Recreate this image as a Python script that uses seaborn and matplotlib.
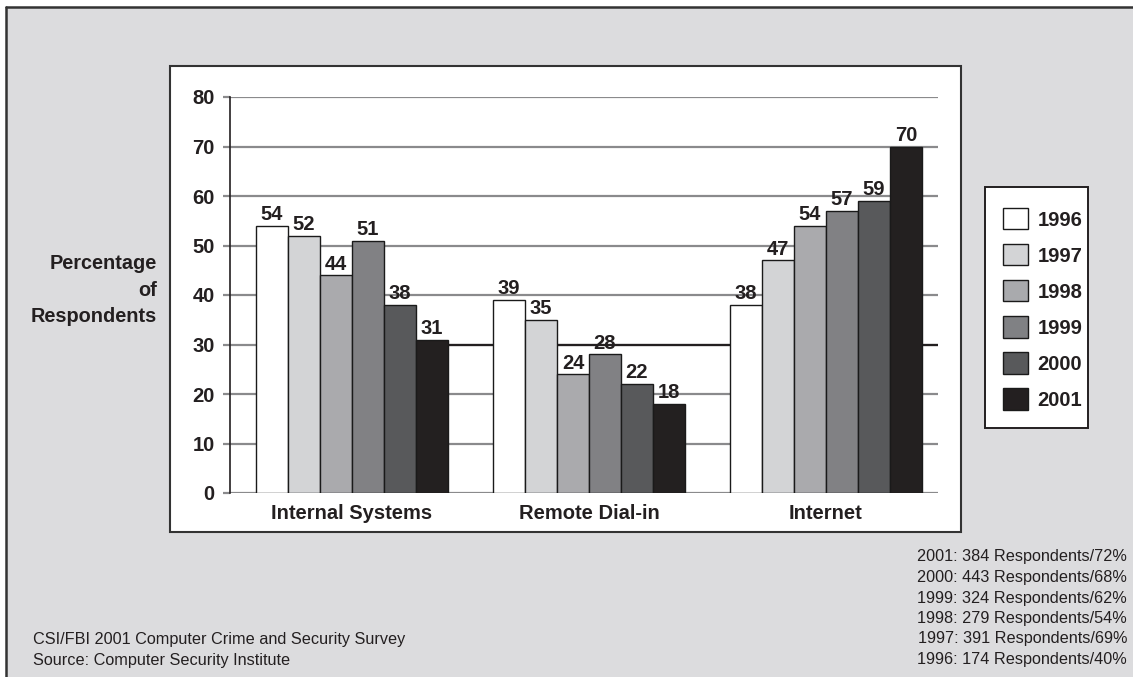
import matplotlib
matplotlib.use("Agg")
import matplotlib.pyplot as plt
from matplotlib.patches import Rectangle, Patch
import pandas as pd
import seaborn as sns

# Survey results: percentage of respondents citing each point of attack
categories = ["Internal Systems", "Remote Dial-in", "Internet"]
years = ["1996", "1997", "1998", "1999", "2000", "2001"]
internal_systems = [54, 52, 44, 51, 38, 31]
remote_dial_in = [39, 35, 24, 28, 22, 18]
internet = [38, 47, 54, 57, 59, 70]
y_ticks = [0, 10, 20, 30, 40, 50, 60, 70, 80]
respondent_notes = [
    "2001: 384 Respondents/72%",
    "2000: 443 Respondents/68%",
    "1999: 324 Respondents/62%",
    "1998: 279 Respondents/54%",
    "1997: 391 Respondents/69%",
    "1996: 174 Respondents/40%",
]
source_notes = [
    "CSI/FBI 2001 Computer Crime and Security Survey",
    "Source: Computer Security Institute",
]

year_colors = ["#ffffff", "#d3d4d6", "#a9aaad", "#808184", "#58595b", "#231f20"]
group_width = 0.81

rows = []
for cat, vals in zip(categories, [internal_systems, remote_dial_in, internet]):
    for yr, v in zip(years, vals):
        rows.append({"category": cat, "year": yr, "value": v})
df = pd.DataFrame(rows)

sns.set_theme(style="white")
plt.rcParams["font.family"] = ["Liberation Sans", "DejaVu Sans"]

W, H = 1133, 677
fig = plt.figure(figsize=(W / 100, H / 100), dpi=100)
fig.patch.set_facecolor("white")


def px_rect(x0, y0, x1, y1, **kw):
    """Rectangle in pixel coordinates measured from the top-left corner."""
    return Rectangle((x0 / W, 1 - y1 / H), (x1 - x0) / W, (y1 - y0) / H,
                     transform=fig.transFigure, **kw)


# gray backdrop with dark left/top edge
fig.patches.append(px_rect(6, 7, W + 5, H + 5, facecolor="#dcdcde",
                           edgecolor="none", zorder=0))
fig.add_artist(plt.Line2D([6 / W, 6 / W], [0, 1 - 7 / H], color="#333333",
                          lw=1.8, transform=fig.transFigure, zorder=1))
fig.add_artist(plt.Line2D([6 / W, 1], [1 - 7 / H, 1 - 7 / H], color="#333333",
                          lw=1.8, transform=fig.transFigure, zorder=1))
# white chart panel and legend box
fig.patches.append(px_rect(170, 66, 961, 532, facecolor="white",
                           edgecolor="#333333", lw=1.5, zorder=1))
fig.patches.append(px_rect(985, 187, 1088, 428, facecolor="white",
                           edgecolor="#231f20", lw=1.4, zorder=1))

ax_l, ax_r, ax_t, ax_b = 230, 938, 97, 493
ax = fig.add_axes([ax_l / W, 1 - ax_b / H, (ax_r - ax_l) / W, (ax_b - ax_t) / H])
ax.set_facecolor("none")
ax.set_zorder(2)

sns.barplot(data=df, x="category", y="value", hue="year", palette=year_colors,
            hue_order=years, order=categories, width=group_width, gap=0,
            edgecolor="#1a1a1a", linewidth=1.0, legend=False, ax=ax, zorder=3)

for cont in ax.containers:
    ax.bar_label(cont, padding=1.2, fontsize=14.5, fontweight="bold",
                 color="#231f20", zorder=5)

ax.set_ylim(0, 80)
ax.set_xlim(-0.515, 2.473)
ax.set_yticks(y_ticks)
ax.set_yticklabels([str(t) for t in y_ticks], fontsize=14.5, fontweight="bold",
                   color="#231f20")
for t in y_ticks:
    ax.axhline(t, color="#8a8a8c", lw=1.6, zorder=1)
# the 30% rule prints darker once past the first group of bars
ax.hlines(30, group_width / 2, ax.get_xlim()[1], color="#231f20", lw=1.6,
          zorder=1.5)
ax.tick_params(axis="y", length=5, width=1.6, color="#8a8a8c", pad=6, left=True)
ax.tick_params(axis="x", length=0, pad=8)
for lbl in ax.get_xticklabels():
    lbl.set_fontsize(14.5)
    lbl.set_fontweight("bold")
    lbl.set_color("#231f20")
ax.set_xlabel("")
ax.set_ylabel("")
for side in ["top", "right", "bottom"]:
    ax.spines[side].set_visible(False)
ax.spines["left"].set_color("#231f20")
ax.spines["left"].set_linewidth(1.2)

fig.text(157 / W, 1 - 290 / H, "Percentage\nof\nRespondents", ha="right",
         va="center", fontsize=14.3, fontweight="bold", color="#231f20",
         linespacing=1.5)

handles = [Patch(facecolor=c, edgecolor="#1a1a1a", lw=1.0, label=y)
           for c, y in zip(year_colors, years)]
leg = fig.legend(handles=handles, loc="center",
                 bbox_to_anchor=(1042.5 / W, 1 - 309 / H), frameon=False,
                 fontsize=14.5, handlelength=1.24, handleheight=1.24,
                 labelspacing=0.73, handletextpad=0.5, borderpad=0.4,
                 borderaxespad=0)
for txt in leg.get_texts():
    txt.set_fontweight("bold")
    txt.set_color("#231f20")

for i, line in enumerate(respondent_notes):
    fig.text(1127 / W, 1 - (557 + i * 20.5) / H, line, ha="right", va="center",
             fontsize=11.7, color="#231f20")
for i, line in enumerate(source_notes):
    fig.text(33 / W, 1 - (639.5 + i * 20.5) / H, line, ha="left", va="center",
             fontsize=11.7, color="#231f20")

fig.savefig("out.png", dpi=100, facecolor=fig.get_facecolor())
